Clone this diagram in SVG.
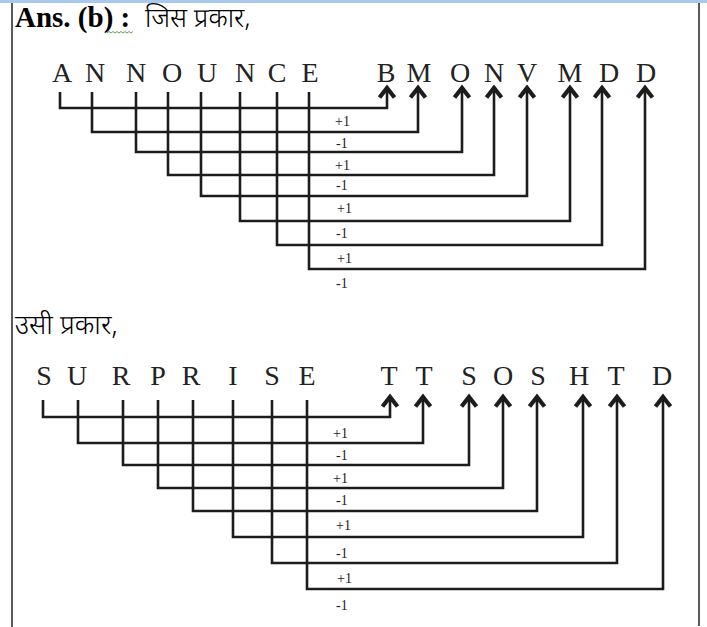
<svg xmlns="http://www.w3.org/2000/svg" width="707" height="627" viewBox="0 0 707 627">
<style>
.h{font-family:"Liberation Serif","Times New Roman",serif;font-weight:bold;font-size:29px;fill:#000}
.hi{font-family:"Noto Sans Devanagari","Noto Sans","DejaVu Sans",sans-serif;fill:#000;font-weight:300}
.L{font-family:"Liberation Serif","Times New Roman",serif;font-size:28px;fill:#222;text-anchor:middle}
.n{font-family:"Liberation Serif","Times New Roman",serif;font-size:14px;fill:#222}
.c{fill:none;stroke:#1c1c1c;stroke-width:2.6;marker-end:url(#ah)}
.b{stroke:#000;stroke-width:1.3}
</style>
<defs>
<marker id="ah" markerUnits="userSpaceOnUse" markerWidth="30" markerHeight="30" viewBox="-15 -15 30 30" refX="0" refY="0" orient="auto" overflow="visible">
<path d="M-9.5,-7.5 L0,0 L-9.5,7.5" fill="none" stroke="#1c1c1c" stroke-width="4.2" stroke-linejoin="miter" stroke-miterlimit="10"/>
</marker>
</defs>
<rect x="0" y="0" width="707" height="627" fill="#fff"/>
<rect x="0" y="0" width="707" height="3" fill="#a9c8ee"/>
<g id="frame">
<line class="b" x1="12" y1="3" x2="12" y2="627"/>
<line class="b" x1="699" y1="3" x2="699" y2="626"/>
</g>
<g id="header1">
<text class="h" x="15" y="27">Ans. (b) :</text>
<path d="M107,33 l2,-1.5 l2,1.5 l2,-1.5 l2,1.5 l2,-1.5 l2,1.5 l2,-1.5 l2,1.5 l2,-1.5 l2,1.5 l2,-1.5 l2,1.5 l2,-1.5" fill="none" stroke="#4c9a3c" stroke-width="0.9"/>
<text class="hi" x="145" y="27" font-size="26.5">जिस प्रकार,</text>
</g>
<g id="header2">
<text class="hi" x="15" y="334" font-size="27">उसी प्रकार,</text>
</g>
<g id="connectors1">
<path class="c" d="M60,92 V108 H387 V88"/>
<path class="c" d="M92,92 V132 H418 V88"/>
<path class="c" d="M136,92 V152 H462 V88"/>
<path class="c" d="M168,92 V175 H494 V88"/>
<path class="c" d="M201,92 V196 H527 V88"/>
<path class="c" d="M240,92 V221 H570 V88"/>
<path class="c" d="M277,92 V245 H602 V88"/>
<path class="c" d="M309,92 V269 H645 V88"/>
</g>
<g id="connectors2">
<path class="c" d="M43,400 V417 H390 V397"/>
<path class="c" d="M78,400 V443 H423 V397"/>
<path class="c" d="M123,400 V465 H469 V397"/>
<path class="c" d="M158,400 V488 H503 V397"/>
<path class="c" d="M193,400 V511 H537 V397"/>
<path class="c" d="M233,400 V537 H583 V397"/>
<path class="c" d="M272,400 V563 H617 V397"/>
<path class="c" d="M307,400 V589 H663 V397"/>
</g>
<g id="src1">
<g id="s1-A"><text class="L" x="62" y="82">A</text></g>
<g id="s1-N1"><text class="L" x="95" y="82">N</text></g>
<g id="s1-N2"><text class="L" x="136" y="82">N</text></g>
<g id="s1-O"><text class="L" x="172" y="82">O</text></g>
<g id="s1-U"><text class="L" x="207" y="82">U</text></g>
<g id="s1-N3"><text class="L" x="245" y="82">N</text></g>
<g id="s1-C"><text class="L" x="277" y="82">C</text></g>
<g id="s1-E"><text class="L" x="310" y="82">E</text></g>
</g>
<g id="dst1">
<g id="d1-B"><text class="L" x="386" y="82">B</text></g>
<g id="d1-M1"><text class="L" x="419" y="82">M</text></g>
<g id="d1-O"><text class="L" x="460" y="82">O</text></g>
<g id="d1-N"><text class="L" x="494" y="82">N</text></g>
<g id="d1-V"><text class="L" x="527" y="82">V</text></g>
<g id="d1-M2"><text class="L" x="570" y="82">M</text></g>
<g id="d1-D1"><text class="L" x="609" y="82">D</text></g>
<g id="d1-D2"><text class="L" x="646" y="82">D</text></g>
</g>
<g id="labels1">
<text class="n" x="335" y="126">+1</text>
<text class="n" x="336" y="148">-1</text>
<text class="n" x="335" y="170">+1</text>
<text class="n" x="336" y="190">-1</text>
<text class="n" x="337" y="213">+1</text>
<text class="n" x="336" y="238">-1</text>
<text class="n" x="337" y="263">+1</text>
<text class="n" x="336" y="288">-1</text>
</g>
<g id="src2">
<g id="s2-S1"><text class="L" x="44" y="385">S</text></g>
<g id="s2-U"><text class="L" x="77" y="385">U</text></g>
<g id="s2-R1"><text class="L" x="121" y="385">R</text></g>
<g id="s2-P"><text class="L" x="158" y="385">P</text></g>
<g id="s2-R2"><text class="L" x="191" y="385">R</text></g>
<g id="s2-I"><text class="L" x="233" y="385">I</text></g>
<g id="s2-S2"><text class="L" x="272" y="385">S</text></g>
<g id="s2-E"><text class="L" x="307" y="385">E</text></g>
</g>
<g id="dst2">
<g id="d2-T1"><text class="L" x="389" y="385">T</text></g>
<g id="d2-T2"><text class="L" x="424" y="385">T</text></g>
<g id="d2-S1"><text class="L" x="469" y="385">S</text></g>
<g id="d2-O"><text class="L" x="503" y="385">O</text></g>
<g id="d2-S2"><text class="L" x="538" y="385">S</text></g>
<g id="d2-H"><text class="L" x="579" y="385">H</text></g>
<g id="d2-T3"><text class="L" x="616" y="385">T</text></g>
<g id="d2-D"><text class="L" x="662" y="385">D</text></g>
</g>
<g id="labels2">
<text class="n" x="333" y="438">+1</text>
<text class="n" x="336" y="460">-1</text>
<text class="n" x="333" y="483">+1</text>
<text class="n" x="336" y="505">-1</text>
<text class="n" x="336" y="530">+1</text>
<text class="n" x="336" y="558">-1</text>
<text class="n" x="337" y="583">+1</text>
<text class="n" x="336" y="610">-1</text>
</g>
</svg>
